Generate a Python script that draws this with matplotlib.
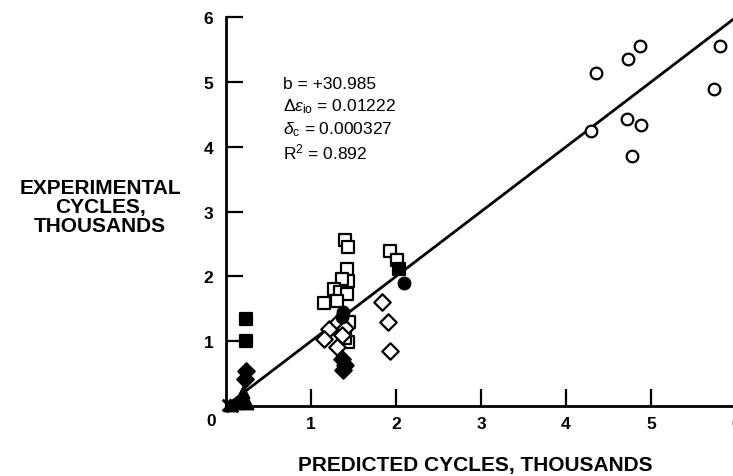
import matplotlib
matplotlib.use("Agg")
import matplotlib.pyplot as plt

plt.rcParams['font.family'] = ['Liberation Sans', 'DejaVu Sans']
plt.rcParams['mathtext.fontset'] = 'custom'
plt.rcParams['mathtext.rm'] = 'Liberation Sans'
plt.rcParams['mathtext.it'] = 'Liberation Sans:italic'

# Data (thousands of cycles): predicted (x) vs experimental (y)
circ_x = [4.29, 4.35, 4.72, 4.73, 4.87, 4.88, 4.78, 5.81, 5.74]
circ_y = [4.24, 5.14, 4.43, 5.35, 5.56, 4.34, 3.86, 5.56, 4.89]

sq_x = [1.15, 1.40, 1.43, 1.42, 1.43, 1.36, 1.27, 1.34, 1.42, 1.31, 1.45, 1.44, 1.40, 1.93, 2.01]
sq_y = [1.59, 2.56, 2.45, 2.11, 1.93, 1.96, 1.80, 1.76, 1.73, 1.62, 1.30, 0.99, 1.05, 2.39, 2.25]

dia_x = [1.84, 1.90, 1.93, 1.21, 1.15, 1.32, 1.30, 1.40, 1.36]
dia_y = [1.60, 1.30, 0.85, 1.19, 1.03, 1.30, 0.91, 1.20, 1.10]

fdia_x = [1.36, 1.40, 1.38, 0.23, 0.22]
fdia_y = [0.73, 0.64, 0.56, 0.54, 0.42]

fsq_x = [0.23, 0.23, 2.04]
fsq_y = [1.34, 1.01, 2.12]

fcirc_x = [2.09, 1.38, 1.36]
fcirc_y = [1.90, 1.45, 1.38]

ftri_x = [0.20, 0.18, 0.25, 0.12, 0.05]
ftri_y = [0.22, 0.12, 0.05, 0.05, 0.02]

cross_x = [0.02, 0.07]
cross_y = [0.02, 0.00]

fit_x = [0, 6.2]
fit_y = [0, 6.2]

x_ticks = [1, 2, 3, 4, 5, 6]
y_ticks = [1, 2, 3, 4, 5, 6]

fig = plt.figure(figsize=(7.33, 4.77), dpi=100)
W, H = 733, 477
x0, y0 = 226, 407
xs, ys = 85.0, 64.8
ax = fig.add_axes([x0 / W, (H - y0) / H, 6 * xs / W, 6 * ys / H])
ax.set_xlim(0, 6)
ax.set_ylim(0, 6)

lw = 1.6
ax.plot(fit_x, fit_y, color='black', lw=2.0, clip_on=True, zorder=2)

ms = 70
ax.scatter(circ_x, circ_y, s=ms, marker='o', facecolors='white', edgecolors='black', linewidths=lw, zorder=3)
ax.scatter(sq_x, sq_y, s=ms, marker='s', facecolors='white', edgecolors='black', linewidths=lw, zorder=3)
ax.scatter(dia_x, dia_y, s=ms, marker='D', facecolors='white', edgecolors='black', linewidths=lw, zorder=3)
ax.scatter(fdia_x, fdia_y, s=ms, marker='D', facecolors='black', edgecolors='black', linewidths=lw, zorder=3)
ax.scatter(fsq_x, fsq_y, s=ms, marker='s', facecolors='black', edgecolors='black', linewidths=lw, zorder=3)
ax.scatter(fcirc_x, fcirc_y, s=ms, marker='o', facecolors='black', edgecolors='black', linewidths=lw, zorder=3)
ax.scatter(ftri_x, ftri_y, s=ms, marker='^', facecolors='black', edgecolors='black', linewidths=lw, zorder=3, clip_on=False)
ax.scatter(cross_x, cross_y, s=ms, marker='x', color='black', linewidths=2, zorder=3, clip_on=False)

for s in ['top', 'right']:
    ax.spines[s].set_visible(False)
for s in ['left', 'bottom']:
    ax.spines[s].set_linewidth(2.0)

ax.set_xticks(x_ticks)
ax.set_yticks(y_ticks)
ax.tick_params(direction='in', length=12, width=1.6, labelsize=12.5)
ax.tick_params(axis='x', pad=7)
ax.tick_params(axis='y', pad=9)
for lab in ax.get_xticklabels() + ax.get_yticklabels():
    lab.set_fontweight('bold')
fig.text(211 / W, 1 - 422 / H, '0', ha='center', va='center', fontsize=12.5, fontweight='bold')

tx = 0.67
fs = 12.5
ax.text(tx, 4.97, 'b = +30.985', fontsize=fs, ha='left', va='center')
ax.text(tx, 4.63, r'$\Delta\epsilon_{\mathrm{io}}$ = 0.01222', fontsize=fs, ha='left', va='center')
ax.text(tx, 4.28, r'$\delta_{\mathrm{c}}$ = 0.000327', fontsize=fs, ha='left', va='center')
ax.text(tx, 3.93, r'R$^2$ = 0.892', fontsize=fs, ha='left', va='center')

fig.text(100 / W, 1 - 207 / H, 'EXPERIMENTAL\nCYCLES,\nTHOUSANDS', ha='center', va='center',
         fontsize=15, fontweight='bold', linespacing=1.0)
fig.text(475 / W, 1 - 466 / H, 'PREDICTED CYCLES, THOUSANDS', ha='center', va='center',
         fontsize=15, fontweight='bold')

fig.savefig('out.png', dpi=100)
